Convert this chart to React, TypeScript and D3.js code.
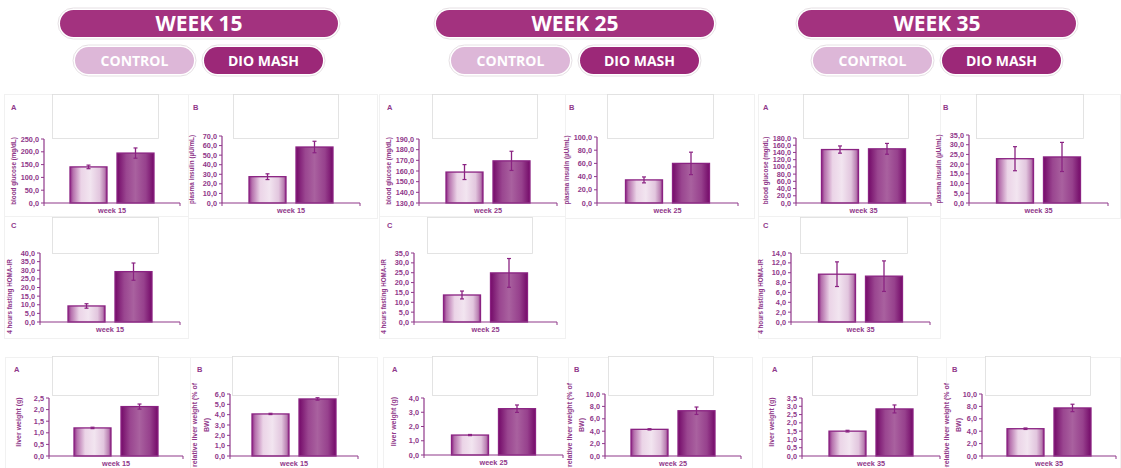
import React from "react";
import * as d3 from "d3";

// ---- Data ----
const weekTitles = ["WEEK 15", "WEEK 25", "WEEK 35"];
const weekCategories = ["week 15", "week 25", "week 35"];
const groups = ["CONTROL", "DIO MASH"];

// [control, DIO MASH] per week
const glucoseMean = [[141, 195], [159, 169.5], [148, 150]];
const glucoseErr = [[7, 20], [7, 9], [10, 15]];
const glucoseAxis = [[0, 250, 50], [130, 190, 10], [0, 180, 20]];

const insulinMean = [[27.5, 58.5], [35, 60], [22.8, 23.7]];
const insulinErr = [[3, 6], [4.5, 17], [6.2, 7.5]];
const insulinAxis = [[0, 70, 10], [0, 100, 20], [0, 35, 5]];

const homaMean = [[9.3, 29.2], [13.7, 24.9], [9.7, 9.3]];
const homaErr = [[1.3, 5], [2, 7.3], [2.5, 3.1]];
const homaAxis = [[0, 40, 5], [0, 35, 5], [0, 14, 2]];

const liverMean = [[1.21, 2.13], [1.4, 3.25], [1.5, 2.84]];
const liverErr = [[0.03, 0.11], [0.04, 0.26], [0.05, 0.24]];
const liverAxis = [[0, 2.5, 0.5], [0, 4, 1], [0, 3.5, 0.5]];

const relLiverMean = [[4.07, 5.52], [4.3, 7.3], [4.4, 7.75]];
const relLiverErr = [[0.06, 0.12], [0.1, 0.6], [0.12, 0.6]];
const relLiverAxis = [[0, 6, 1], [0, 10, 2], [0, 10, 2]];

// ---- Styling / layout ----
const PURPLE = "#A3327F";
const PURPLE_DARK = "#9C2878";
const PINK = "#DDB7D8";
const INK = "#90388A";
const BAR_LINE = "#8A2282";
const FRAME = "#f1f1f1";

type Rect = [number, number, number, number];
interface PanelLayout {
  ax: number; top: number; bot: number; end: number;
  letter: string; lx: number; ly: number;
  box: Rect; frame: Rect;
}

const LAYOUT: Record<string, PanelLayout[]> = {
  glucose: [
    { ax: 44, top: 139, bot: 203, end: 180, letter: "A", lx: 11, ly: 110, box: [52, 94, 158, 138], frame: [4, 94, 188, 218] },
    { ax: 419, top: 139, bot: 203, end: 557, letter: "A", lx: 387, ly: 110, box: [432, 94, 537, 138], frame: [379, 94, 565, 218] },
    { ax: 796, top: 138, bot: 203, end: 931, letter: "A", lx: 763, ly: 110, box: [803, 94, 908, 138], frame: [758, 94, 940, 218] },
  ],
  insulin: [
    { ax: 222, top: 136, bot: 203, end: 360, letter: "B", lx: 193, ly: 110, box: [233, 94, 338, 138], frame: [188, 94, 377, 218] },
    { ax: 597, top: 137, bot: 203, end: 738, letter: "B", lx: 569, ly: 110, box: [607, 94, 713, 138], frame: [565, 94, 754, 218] },
    { ax: 969, top: 135, bot: 203, end: 1108, letter: "B", lx: 943, ly: 110, box: [976, 94, 1083, 138], frame: [940, 94, 1120, 218] },
  ],
  homa: [
    { ax: 40, top: 253, bot: 322, end: 180, letter: "C", lx: 11, ly: 228, box: [52, 217, 158, 253], frame: [4, 216, 188, 338] },
    { ax: 414, top: 253, bot: 322, end: 557, letter: "C", lx: 387, ly: 228, box: [427, 217, 532, 253], frame: [379, 216, 565, 338] },
    { ax: 791, top: 253, bot: 322, end: 930, letter: "C", lx: 763, ly: 228, box: [800, 217, 907, 253], frame: [758, 216, 940, 338] },
  ],
  liver: [
    { ax: 49, top: 398, bot: 456, end: 183, letter: "A", lx: 14, ly: 372, box: [52, 356, 158, 395], frame: [5, 357, 190, 468] },
    { ax: 424, top: 398, bot: 455, end: 563, letter: "A", lx: 392, ly: 372, box: [432, 356, 537, 395], frame: [383, 357, 568, 468] },
    { ax: 802, top: 398, bot: 456, end: 940, letter: "A", lx: 772, ly: 372, box: [812, 356, 917, 395], frame: [762, 357, 946, 468] },
  ],
  rel: [
    { ax: 230, top: 394, bot: 456, end: 358, letter: "B", lx: 197, ly: 372, box: [232, 356, 338, 395], frame: [190, 357, 377, 468] },
    { ax: 605, top: 394, bot: 456, end: 741, letter: "B", lx: 574, ly: 372, box: [608, 356, 713, 395], frame: [568, 357, 752, 468] },
    { ax: 982, top: 394, bot: 456, end: 1116, letter: "B", lx: 952, ly: 372, box: [985, 356, 1090, 395], frame: [946, 357, 1120, 468] },
  ],
};

interface Measure {
  key: string; title: string[]; mean: number[][]; err: number[][]; axis: number[][];
  titleSize: number; titleShift: number;
}

const measures: Measure[] = [
  { key: "glucose", title: ["blood glucose (mg/dL)"], mean: glucoseMean, err: glucoseErr, axis: glucoseAxis, titleSize: 6.3, titleShift: 0 },
  { key: "insulin", title: ["plasma insulin (µU/mL)"], mean: insulinMean, err: insulinErr, axis: insulinAxis, titleSize: 6.3, titleShift: 0 },
  { key: "homa", title: ["4 hours fasting HOMA-IR"], mean: homaMean, err: homaErr, axis: homaAxis, titleSize: 6.3, titleShift: 9 },
  { key: "liver", title: ["liver weight (g)"], mean: liverMean, err: liverErr, axis: liverAxis, titleSize: 7, titleShift: -5 },
  { key: "rel", title: ["relative liver weight (% of", "BW)"], mean: relLiverMean, err: relLiverErr, axis: relLiverAxis, titleSize: 7, titleShift: 0 },
];

const fmt = (v: number) => d3.format(".1f")(v).replace(".", ",");
const FONT = "Arial, 'Liberation Sans', sans-serif";

const BAR_W = 37;
const BAR_GAP = 10;

function Panel({ m, w }: { m: Measure; w: number }) {
  const L = LAYOUT[m.key][w];
  const [lo, hi, step] = m.axis[w];
  const y = d3.scaleLinear().domain([lo, hi]).range([L.bot, L.top]);
  const ticks = d3.range(lo, hi + step / 2, step);
  const center = (L.ax + L.end) / 2;
  const x = d3
    .scaleBand<string>()
    .domain(groups)
    .range([center - BAR_W - BAR_GAP / 2, center + BAR_W + BAR_GAP / 2])
    .paddingInner(BAR_GAP / (BAR_W + BAR_GAP))
    .paddingOuter(0);
  const yc = (L.top + L.bot) / 2 + m.titleShift;
  const titleXs = m.title.length === 1 ? [L.ax - 30] : [L.ax - 35, L.ax - 23];

  return (
    <g>
      <rect x={L.frame[0] + 0.5} y={L.frame[1] + 0.5} width={L.frame[2] - L.frame[0]} height={L.frame[3] - L.frame[1]}
        fill="#fff" stroke={FRAME} strokeWidth={1} />
      <rect x={L.box[0] + 0.5} y={L.box[1] + 0.5} width={L.box[2] - L.box[0]} height={L.box[3] - L.box[1]}
        fill="#fff" stroke="#dddddd" strokeWidth={0.8} />
      <text x={L.lx} y={L.ly} fontSize={7.5} fontWeight="bold" fill={INK} fontFamily={FONT}>{L.letter}</text>

      {/* bars */}
      {groups.map((g, i) => {
        const v = m.mean[w][i];
        const e = m.err[w][i];
        const bx = x(g) as number;
        const cx = bx + x.bandwidth() / 2;
        return (
          <g key={g}>
            <rect x={bx} y={y(v)} width={x.bandwidth()} height={y(lo) - y(v)}
              fill={i === 0 ? "url(#gradControl)" : "url(#gradDio)"} stroke={BAR_LINE} strokeWidth={1.3} />
            <line x1={cx} x2={cx} y1={y(v + e)} y2={y(v - e)} stroke={BAR_LINE} strokeWidth={1.3} />
            <line x1={cx - 2} x2={cx + 2} y1={y(v + e)} y2={y(v + e)} stroke={BAR_LINE} strokeWidth={1.2} />
            <line x1={cx - 2} x2={cx + 2} y1={y(v - e)} y2={y(v - e)} stroke={BAR_LINE} strokeWidth={1.2} />
          </g>
        );
      })}

      {/* y axis */}
      <line x1={L.ax} x2={L.ax} y1={L.top} y2={L.bot} stroke={INK} strokeWidth={1.2} />
      {ticks.map((t) => (
        <g key={t}>
          <line x1={L.ax - 3} x2={L.ax} y1={y(t)} y2={y(t)} stroke={INK} strokeWidth={1} />
          <text x={L.ax - 5} y={y(t)} dy="0.35em" textAnchor="end" fontSize={7.3} fontWeight="bold" fill={INK} fontFamily={FONT}>
            {fmt(t)}
          </text>
        </g>
      ))}
      {/* x axis */}
      <line x1={L.ax} x2={L.end} y1={L.bot} y2={L.bot} stroke={INK} strokeWidth={1.2} />
      <line x1={L.end} x2={L.end} y1={L.bot} y2={L.bot + 3} stroke={INK} strokeWidth={1} />
      <line x1={L.ax} x2={L.ax} y1={L.bot} y2={L.bot + 3} stroke={INK} strokeWidth={1} />
      <text x={center} y={L.bot + 10} textAnchor="middle" fontSize={7.3} fontWeight="bold" fill={INK} fontFamily={FONT}>
        {weekCategories[w]}
      </text>

      {/* y title */}
      {m.title.map((t, k) => (
        <text key={k} transform={`translate(${titleXs[k]},${yc}) rotate(-90)`} textAnchor="middle" dy="0.35em"
          fontSize={m.titleSize} fontWeight="bold" fill={INK} fontFamily={FONT}>
          {t}
        </text>
      ))}
    </g>
  );
}

function Pill({ x, y, w, h, fill, label, size }: { x: number; y: number; w: number; h: number; fill: string; label: string; size: number }) {
  return (
    <g>
      <rect x={x - 2} y={y - 2} width={w + 4} height={h + 4} rx={(h + 4) / 2} fill="#fff" stroke="#e6e0e4" strokeWidth={1} />
      <rect x={x} y={y} width={w} height={h} rx={h / 2} fill={fill} />
      <text x={x + w / 2} y={y + h / 2} dy="0.36em" textAnchor="middle" fill="#fff" fontSize={size} fontWeight="bold"
        fontFamily="'Open Sans', 'Noto Sans', sans-serif">
        {label}
      </text>
    </g>
  );
}

const headerCenters = [199, 575, 937];

export default function App() {
  return (
    <svg width={1121} height={468} style={{ position: "fixed", left: 0, top: 0, background: "#fff" }}>
      <defs>
        <linearGradient id="gradControl" x1="0" x2="1" y1="0" y2="0">
          <stop offset="0%" stopColor="#8B2583" />
          <stop offset="8%" stopColor="#B56FAC" />
          <stop offset="30%" stopColor="#EBD4E7" />
          <stop offset="55%" stopColor="#F2E5F0" />
          <stop offset="80%" stopColor="#E2C6DE" />
          <stop offset="94%" stopColor="#B97FB1" />
          <stop offset="100%" stopColor="#8B2583" />
        </linearGradient>
        <linearGradient id="gradDio" x1="0" x2="1" y1="0" y2="0">
          <stop offset="0%" stopColor="#740A69" />
          <stop offset="25%" stopColor="#9A4690" />
          <stop offset="50%" stopColor="#A9619F" />
          <stop offset="78%" stopColor="#97418D" />
          <stop offset="100%" stopColor="#740A69" />
        </linearGradient>
      </defs>
      <rect width={1121} height={468} fill="#fff" />

      {weekTitles.map((t, i) => {
        const cx = headerCenters[i];
        return (
          <g key={t}>
            <Pill x={cx - 139} y={10} w={278} h={27} fill={PURPLE} label={t} size={21} />
            <Pill x={cx - 124} y={47} w={119} h={27} fill={PINK} label={groups[0]} size={14} />
            <Pill x={cx + 5} y={47} w={119} h={27} fill={PURPLE_DARK} label={groups[1]} size={14} />
          </g>
        );
      })}

      {measures.map((m) => [0, 1, 2].map((w) => <Panel key={m.key + w} m={m} w={w} />))}
    </svg>
  );
}
